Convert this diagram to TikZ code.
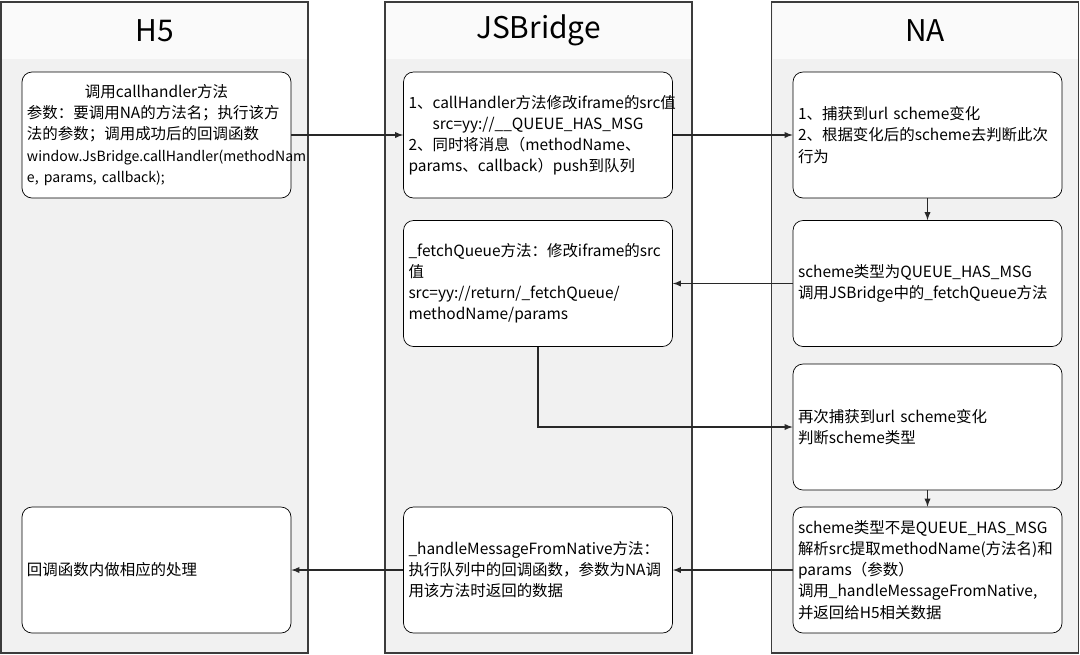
\documentclass[tikz,border=0pt]{standalone}
\usepackage{fontspec}
\setmainfont{Noto Sans CJK SC}
\usepackage{tikz}
\usetikzlibrary{arrows,shapes,positioning,calc}
\usepackage{xcolor}
\definecolor{lanegray}{RGB}{60,60,60}
\definecolor{lanefill}{RGB}{241,241,241}
\definecolor{headfill}{RGB}{250,250,250}
\definecolor{linegray}{RGB}{40,40,40}
\tikzstyle{arrow} = [semithick,-latex,color=linegray]
\tikzstyle{lane} = [rectangle, draw=lanegray, semithick, fill=lanefill, minimum width=6.14cm, minimum height=13.02cm, inner sep=0pt]
\tikzstyle{lanehead} = [rectangle, fill=headfill, minimum width=6.1cm, minimum height=1.12cm, inner sep=0pt, font=\fontsize{17}{20}\selectfont]
\tikzstyle{stepbox} = [rectangle, rounded corners=0.2cm, draw=black, fill=white, minimum width=5.38cm, minimum height=2.52cm, text width=5.18cm, inner xsep=0.1cm, align=left, font=\fontsize{8.8}{12}\selectfont]
\newcommand{\ctrline}[1]{\makebox[5.18cm][c]{#1}}

\begin{document}
\begin{tikzpicture}[x=0.2mm,y=-0.2mm]
\useasboundingbox (0,0) rectangle (1080,654);

% lanes
\node[lane] (h5lane) at (154.5,327.5) {};
\node[lane] (jslane) at (538.5,327.5) {};
\node[lane] (nalane) at (925,327.5) {};
\node[lanehead, below=0.02cm of h5lane.north] (h5head) {H5};
\node[lanehead, below=0.02cm of jslane.north] (jshead) {JSBridge};
\node[lanehead, below=0.02cm of nalane.north] (nahead) {NA};

% H5
\node[stepbox] (h5A) at (156.5,135) {\ctrline{调用callhandler方法}\\
参数：要调用NA的方法名；执行该方\\
法的参数；调用成功后的回调函数\\
{\fontsize{8}{12}\selectfont window.JsBridge.callHandler(methodNam}\\
{\fontsize{8}{12}\selectfont e, params, callback);}};
\node[stepbox] (h5B) at (156.5,570) {回调函数内做相应的处理};

% JSBridge
\node[stepbox] (jsA) at (538,135) {1、callHandler方法修改iframe的src值\\
\ctrline{src=yy://\_\_QUEUE\_HAS\_MSG}\\
2、同时将消息（methodName、\\
params、callback）push到队列};
\node[stepbox] (jsB) at (538,283.5) {\_fetchQueue方法：修改iframe的src\\
值\\
src=yy://return/\_fetchQueue/\\
methodName/params};
\node[stepbox] (jsC) at (538,570) {\_handleMessageFromNative方法：\\
执行队列中的回调函数，参数为NA调\\
用该方法时返回的数据};

% NA
\node[stepbox] (naA) at (927.5,135) {1、捕获到url scheme变化\\
2、根据变化后的scheme去判断此次\\
行为};
\node[stepbox] (naB) at (927.5,283.5) {scheme类型为QUEUE\_HAS\_MSG\\
调用JSBridge中的\_fetchQueue方法};
\node[stepbox] (naC) at (927.5,427) {再次捕获到url scheme变化\\
判断scheme类型};
\node[stepbox] (naD) at (927.5,570) {scheme类型不是QUEUE\_HAS\_MSG\\
解析src提取methodName(方法名)和\\
params（参数）\\
调用\_handleMessageFromNative,\\
并返回给H5相关数据};

% flow
\draw[arrow] (h5A.east) -- (jsA.west);
\draw[arrow] (jsA.east) -- (naA.west);
\draw[arrow] (naA.south) -- (naB.north);
\draw[arrow] (naB.west) -- (jsB.east);
\draw[arrow] (jsB.south) |- (naC.west);
\draw[arrow] (naC.south) -- (naD.north);
\draw[arrow] (naD.west) -- (jsC.east);
\draw[arrow] (jsC.west) -- (h5B.east);
\end{tikzpicture}
\end{document}
